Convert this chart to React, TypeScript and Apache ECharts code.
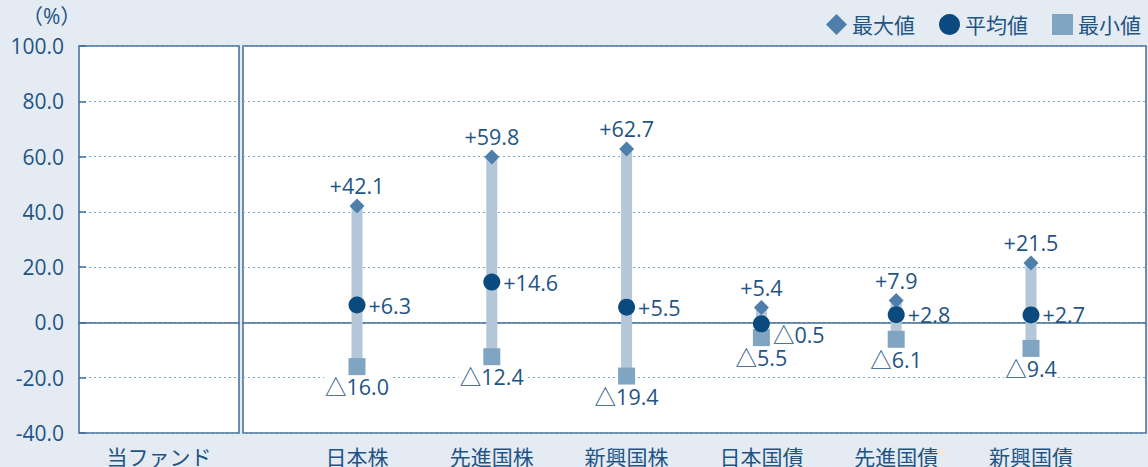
import React, { useEffect, useRef } from "react";
import * as echarts from "echarts";

const fundCategory = ["当ファンド"];
const categories = ["日本株", "先進国株", "新興国株", "日本国債", "先進国債", "新興国債"];
const maxValues = [42.1, 59.8, 62.7, 5.4, 7.9, 21.5];
const meanValues = [6.3, 14.6, 5.5, -0.5, 2.8, 2.7];
const minValues = [-16.0, -12.4, -19.4, -5.5, -6.1, -9.4];

const TEXT = "#1f5485";
const BORDER = "#3f6d98";
const FONT = "Open Sans, Noto Sans CJK JP, sans-serif";
const FS = 21;
const LFS = 21.5;

const fmt = (v: number) => (v < 0 ? "△" + Math.abs(v).toFixed(1) : "+" + v.toFixed(1));

export default function App() {
  const ref = useRef<HTMLDivElement>(null);
  useEffect(() => {
    if (!ref.current) return;
    const chart = echarts.init(ref.current, null, { renderer: "svg" });
    const labelBase = {
      show: true,
      fontSize: LFS,
      color: TEXT,
      fontFamily: FONT,
      backgroundColor: "#ffffff",
      padding: [0, 1],
      formatter: (p: any) => fmt(p.value[1]),
    };
    const yBase = { type: "value", min: -40, max: 100, interval: 20 };
    const option: any = {
      animation: false,
      backgroundColor: "#e4ebf3",
      textStyle: { fontFamily: FONT },
      graphic: [
        {
          type: "text",
          left: 22,
          top: 5,
          style: { text: "（%）", fontSize: FS, fill: TEXT, fontFamily: FONT },
        },
      ],
      legend: {
        right: 2,
        top: 9,
        itemWidth: 21,
        itemHeight: 21,
        itemGap: 24,
        textStyle: { fontSize: FS, color: TEXT, fontFamily: FONT },
        data: [
          { name: "最大値", icon: "diamond" },
          { name: "平均値", icon: "circle" },
          { name: "最小値", icon: "rect" },
        ],
      },
      grid: [
        { left: 79, top: 46, width: 160, height: 387, show: true, backgroundColor: "#ffffff", borderColor: BORDER, borderWidth: 1.5 },
        { left: 243, top: 46, width: 903, height: 387, show: true, backgroundColor: "#ffffff", borderColor: BORDER, borderWidth: 1.5 },
        { left: 289.6, top: 46, width: 808.8, height: 387, show: false },
      ],
      xAxis: [
        {
          type: "category",
          gridIndex: 0,
          data: fundCategory,
          axisLine: { show: true, onZero: true, lineStyle: { color: BORDER, width: 1.5 } },
          axisTick: { show: false },
          axisLabel: { fontSize: FS, color: TEXT, margin: 13, fontFamily: FONT },
        },
        {
          type: "category",
          gridIndex: 1,
          data: [""],
          axisLine: { show: true, onZero: true, lineStyle: { color: BORDER, width: 1.5 } },
          axisTick: { show: false },
          axisLabel: { show: false },
        },
        {
          type: "category",
          gridIndex: 2,
          data: categories,
          axisLine: { show: false },
          axisTick: { show: false },
          axisLabel: { fontSize: FS, color: TEXT, margin: 13, fontFamily: FONT },
        },
      ],
      yAxis: [
        {
          ...yBase,
          gridIndex: 0,
          axisLine: { show: false },
          axisTick: { show: true, inside: true, length: 7, lineStyle: { color: BORDER, width: 1.5 } },
          axisLabel: { fontSize: FS, color: TEXT, margin: 15, fontFamily: FONT, formatter: (v: number) => v.toFixed(1) },
          splitLine: { show: true, lineStyle: { color: "#7ba4c9", type: [2, 3], width: 1 } },
        },
        {
          ...yBase,
          gridIndex: 1,
          axisLine: { show: false },
          axisTick: { show: false },
          axisLabel: { show: false },
          splitLine: { show: true, lineStyle: { color: "#7ba4c9", type: [2, 3], width: 1 } },
        },
        { ...yBase, gridIndex: 2, show: false, splitLine: { show: false } },
      ],
      series: [
        {
          type: "custom",
          name: "range",
          xAxisIndex: 2,
          yAxisIndex: 2,
          encode: { x: 0, y: [1, 2] },
          data: categories.map((_, i) => [i, minValues[i], maxValues[i]]),
          renderItem: (params: any, api: any) => {
            const x = api.value(0);
            const lo = api.coord([x, api.value(1)]);
            const hi = api.coord([x, api.value(2)]);
            const w = 11;
            return {
              type: "rect",
              shape: { x: lo[0] - w / 2, y: hi[1], width: w, height: lo[1] - hi[1] },
              style: { fill: "#b3c7d9" },
            };
          },
        },
        {
          type: "scatter",
          name: "最大値",
          xAxisIndex: 2,
          yAxisIndex: 2,
          symbol: "diamond",
          symbolSize: 15,
          itemStyle: { color: "#4e7fab", opacity: 1 },
          data: categories.map((_, i) => [i, maxValues[i]]),
          label: { ...labelBase, position: "top", distance: 2 },
        },
        {
          type: "scatter",
          name: "最小値",
          xAxisIndex: 2,
          yAxisIndex: 2,
          symbol: "rect",
          symbolSize: 17,
          itemStyle: { color: "#80a5c2", opacity: 1 },
          data: categories.map((_, i) => [i, minValues[i]]),
          label: { ...labelBase, position: "bottom", distance: 1 },
        },
        {
          type: "scatter",
          name: "平均値",
          xAxisIndex: 2,
          yAxisIndex: 2,
          symbol: "circle",
          symbolSize: 17,
          itemStyle: { color: "#0b4a7f", opacity: 1 },
          data: categories.map((_, i) => ({
            value: [i, meanValues[i]],
            label: meanValues[i] < 0 ? { offset: [0, 11] } : undefined,
          })),
          label: { ...labelBase, position: "right", distance: 2, backgroundColor: "transparent" },
        },
      ],
    };
    chart.setOption(option);
    return () => chart.dispose();
  }, []);
  return <div ref={ref} style={{ position: "fixed", left: 0, top: 0, width: 1148, height: 467 }} />;
}
